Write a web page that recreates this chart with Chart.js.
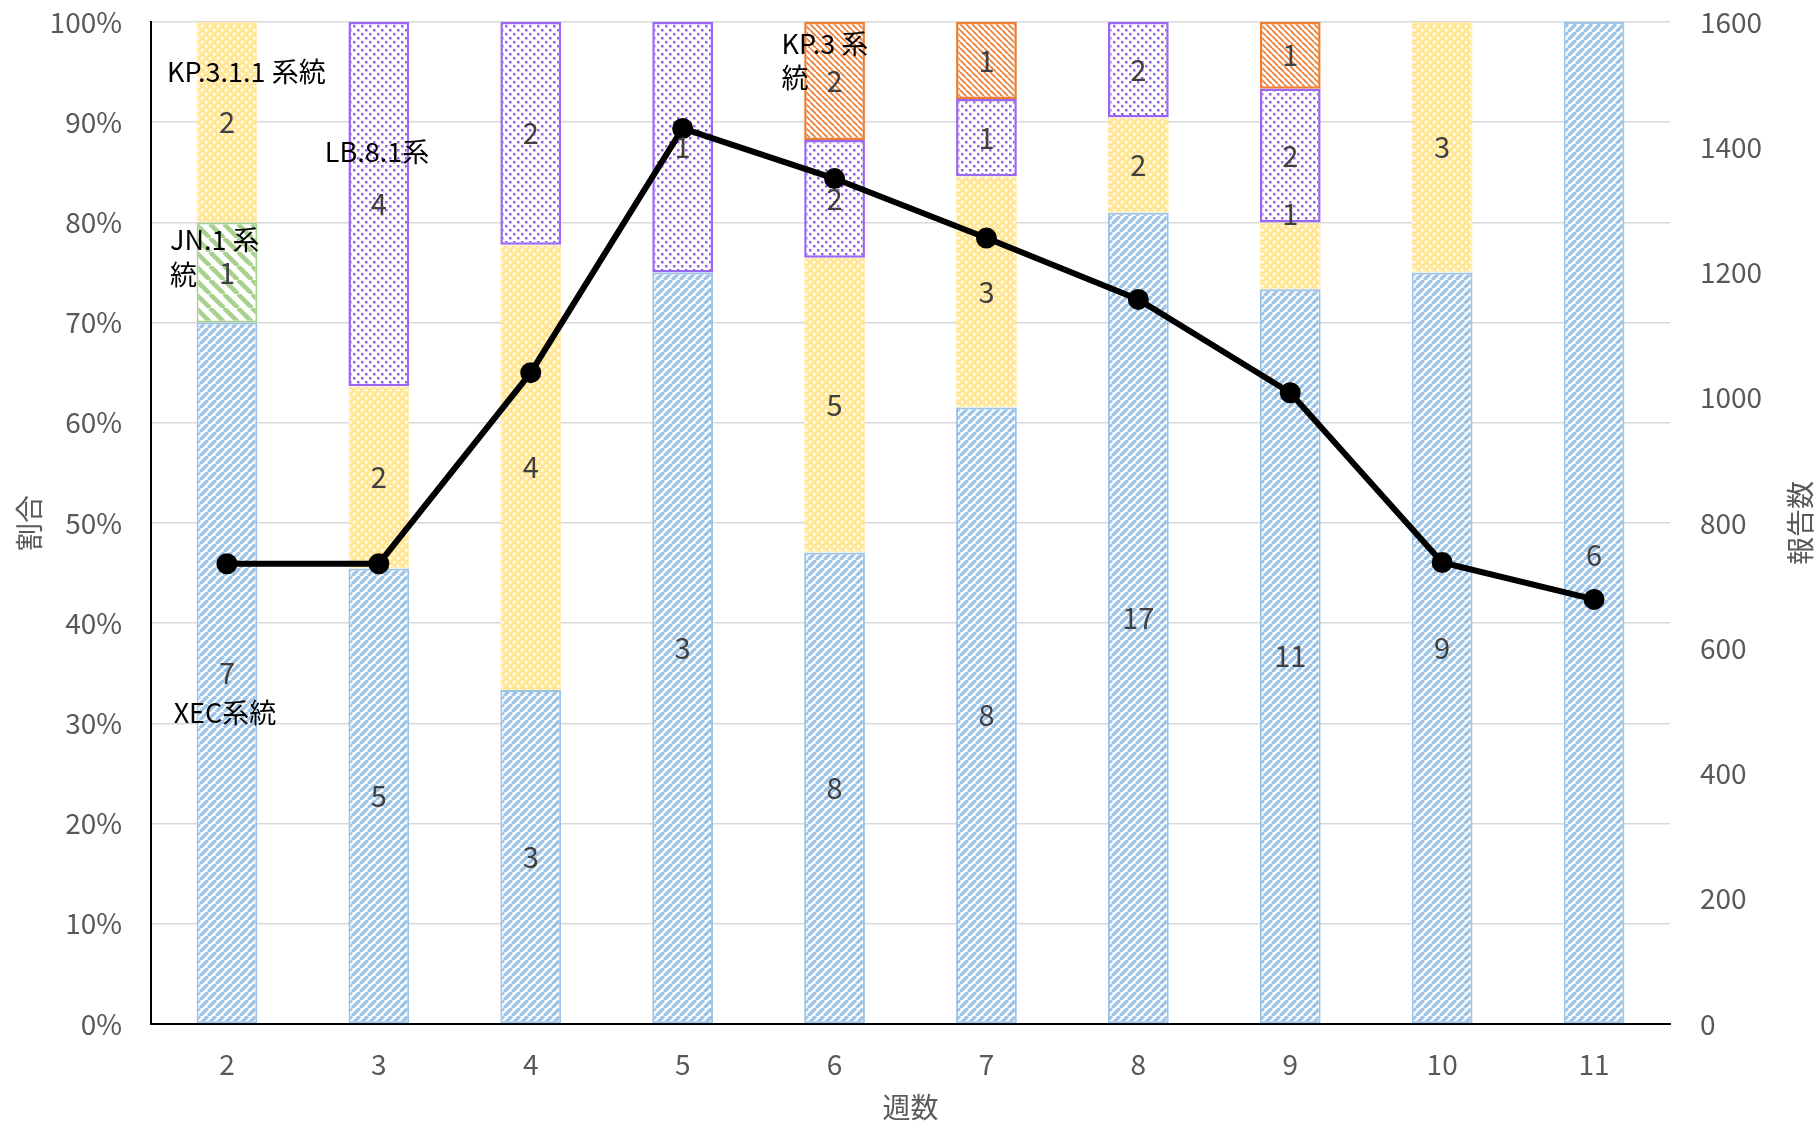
<!DOCTYPE html>
<html>
<head>
<meta charset="utf-8">
<script src="https://cdn.jsdelivr.net/npm/chart.js@4"></script>
<style>
  body { margin: 0; background: #fff; }
  #wrap { width: 1818px; height: 1122px; }
</style>
</head>
<body>
<div id="wrap"><canvas id="chart"></canvas></div>
<script>
const weeks = ['2', '3', '4', '5', '6', '7', '8', '9', '10', '11'];
const xecCounts = [7, 5, 3, 3, 8, 8, 17, 11, 9, 6];
const jn1Counts = [1, 0, 0, 0, 0, 0, 0, 0, 0, 0];
const kp311Counts = [2, 2, 4, 0, 5, 3, 2, 1, 3, 0];
const lb81Counts = [0, 4, 2, 1, 2, 1, 2, 2, 0, 0];
const kp3Counts = [0, 0, 0, 0, 2, 1, 0, 1, 0, 0];
const reports = [735, 735, 1040, 1430, 1350, 1255, 1157, 1008, 737, 678];
const pctTicks = [0, 10, 20, 30, 40, 50, 60, 70, 80, 90, 100];

const FONT = "'Noto Sans CJK JP', 'Noto Sans', sans-serif";

const totals = weeks.map((w, i) =>
  xecCounts[i] + jn1Counts[i] + kp311Counts[i] + lb81Counts[i] + kp3Counts[i]);
const toPct = arr => arr.map((v, i) => v > 0 ? v / totals[i] * 100 : null);

// pattern fills like the Excel ones
function stripes(color, size, lw, dir) {
  const c = document.createElement('canvas');
  c.width = size; c.height = size;
  const g = c.getContext('2d');
  g.fillStyle = '#fff';
  g.fillRect(0, 0, size, size);
  g.strokeStyle = color;
  g.lineWidth = lw;
  g.beginPath();
  for (let k = -1; k <= 1; k++) {
    if (dir === '/') {
      g.moveTo(k * size, size); g.lineTo(k * size + size, 0);
    } else {
      g.moveTo(k * size, 0); g.lineTo(k * size + size, size);
    }
  }
  g.stroke();
  return g.createPattern(c, 'repeat');
}
function dots(bg, fg, size, d) {
  const c = document.createElement('canvas');
  c.width = size; c.height = size;
  const g = c.getContext('2d');
  g.fillStyle = bg;
  g.fillRect(0, 0, size, size);
  g.fillStyle = fg;
  g.fillRect(1, 1, d, d);
  g.fillRect(1 + size / 2, 1 + size / 2, d, d);
  return g.createPattern(c, 'repeat');
}

const barSeries = [
  { name: 'XEC系統', counts: xecCounts, fill: stripes('#9DC3E6', 8, 3.4, '/'), border: '#9DC3E6', bw: 2 },
  { name: 'JN.1系統', counts: jn1Counts, fill: stripes('#A9D18E', 14, 4.5, '\\'), border: '#A9D18E', bw: 2 },
  { name: 'KP.3.1.1系統', counts: kp311Counts, fill: dots('#FFE699', '#FFFFFF', 8, 2.5), border: '#FFEBB0', bw: 1 },
  { name: 'LB.8.1系統', counts: lb81Counts, fill: dots('#FFFFFF', '#9A5CF7', 8, 2.5), border: '#9A66F5', bw: 2.5 },
  { name: 'KP.3系統', counts: kp3Counts, fill: stripes('#ED7D31', 6, 1.7, '\\'), border: '#ED7D31', bw: 2.5 }
];

const datasets = barSeries.map(s => ({
  type: 'bar',
  label: s.name,
  data: toPct(s.counts),
  backgroundColor: s.fill,
  borderColor: s.border,
  borderWidth: s.bw,
  borderSkipped: false,
  yAxisID: 'y',
  order: 1
}));
datasets.push({
  type: 'line',
  label: '報告数',
  data: reports,
  yAxisID: 'y1',
  borderColor: '#000',
  backgroundColor: '#000',
  borderWidth: 6,
  pointRadius: 7.5,
  pointBackgroundColor: '#000',
  pointBorderColor: '#000',
  order: 0
});

// count labels in the middle of each segment, plus series names
const labelPlugin = {
  id: 'labels',
  afterDatasetsDraw(chart) {
    const ctx = chart.ctx;
    const xs = chart.scales.x, ys = chart.scales.y;
    ctx.save();
    ctx.textAlign = 'center';
    ctx.textBaseline = 'middle';
    ctx.font = '29px ' + FONT;
    ctx.fillStyle = '#404040';
    barSeries.forEach((s, di) => {
      const meta = chart.getDatasetMeta(di);
      meta.data.forEach((el, i) => {
        const v = s.counts[i];
        if (!v) return;
        let y = (el.y + el.base) / 2;
        if (di === 0 && i === 9) y += 32;
        if (di === 2 && i === 7) y -= 42;
        ctx.fillText(String(v), el.x, y);
      });
    });

    ctx.fillStyle = '#000';
    ctx.font = '27px ' + FONT;
    const cx = i => xs.getPixelForValue(i);
    ctx.textAlign = 'left';
    ctx.fillText('KP.3.1.1 系統', cx(0) - 60, ys.getPixelForValue(95));
    ctx.fillText('JN.1 系', cx(0) - 57, ys.getPixelForValue(78.3));
    ctx.fillText('統', cx(0) - 57, ys.getPixelForValue(74.8));
    ctx.fillText('LB.8.1系', cx(1) - 54, ys.getPixelForValue(87.1));
    ctx.fillText('KP.3 系', cx(4) - 53, ys.getPixelForValue(97.8));
    ctx.fillText('統', cx(4) - 53, ys.getPixelForValue(94.4));
    ctx.textAlign = 'center';
    ctx.fillText('XEC系統', cx(0) - 2, ys.getPixelForValue(31.1));
    ctx.restore();
  },
  afterDraw(chart) {
    const ctx = chart.ctx;
    const a = chart.chartArea;
    const midY = (a.top + a.bottom) / 2;
    ctx.save();
    ctx.fillStyle = '#595959';
    ctx.font = '28px ' + FONT;
    ctx.textAlign = 'center';
    ctx.textBaseline = 'middle';
    ctx.fillText('週数', (a.left + a.right) / 2, 1107);
    [['割合', 29], ['報告数', 1800]].forEach(([t, x]) => {
      ctx.save();
      ctx.translate(x, midY);
      ctx.rotate(-Math.PI / 2);
      ctx.fillText(t, 0, 0);
      ctx.restore();
    });
    ctx.restore();
  }
};

const noPad = s => { s.paddingTop = 0; s.paddingBottom = 0; };

new Chart(document.getElementById('chart'), {
  type: 'bar',
  data: { labels: weeks, datasets: datasets },
  options: {
    responsive: true,
    maintainAspectRatio: false,
    animation: false,
    layout: { padding: { top: 22, left: 0, right: 0, bottom: 0 } },
    plugins: {
      legend: { display: false },
      tooltip: { enabled: false }
    },
    datasets: {
      bar: { barPercentage: 0.4, categoryPercentage: 1 }
    },
    scales: {
      x: {
        stacked: true,
        grid: { display: false, drawTicks: false },
        border: { color: '#000', width: 2 },
        ticks: { color: '#595959', font: { family: FONT, size: 28 }, padding: 24 },
        afterFit(s) { s.height = 98; s.paddingLeft = 0; s.paddingRight = 0; }
      },
      y: {
        stacked: true,
        position: 'left',
        min: 0,
        max: 100,
        afterBuildTicks(s) { s.ticks = pctTicks.map(v => ({ value: v })); },
        grid: { color: '#D9D9D9', lineWidth: 1.5, drawTicks: false },
        border: { color: '#000', width: 2 },
        ticks: {
          color: '#595959',
          font: { family: FONT, size: 28 },
          padding: 29,
          callback: v => v + '%'
        },
        afterFit(s) { s.width = 151; noPad(s); }
      },
      y1: {
        position: 'right',
        min: 0,
        max: 1600,
        grid: { display: false, drawTicks: false },
        border: { display: false },
        ticks: {
          stepSize: 200,
          color: '#595959',
          font: { family: FONT, size: 28 },
          padding: 30,
          callback: v => String(v)
        },
        afterFit(s) { s.width = 148; noPad(s); }
      }
    }
  },
  plugins: [labelPlugin]
});
</script>
</body>
</html>
